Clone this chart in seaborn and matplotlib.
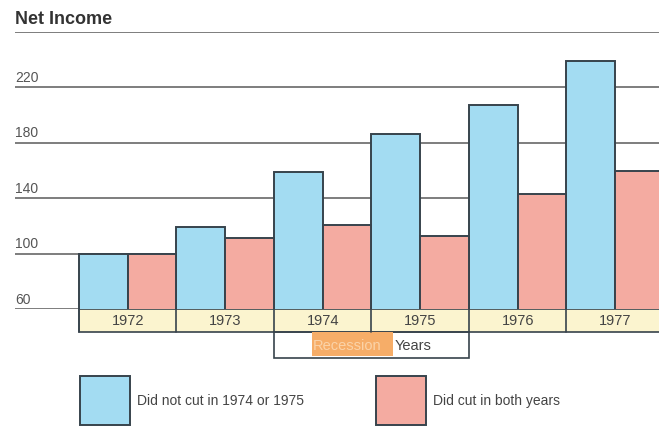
import numpy as np
import pandas as pd
import seaborn as sns
import matplotlib.pyplot as plt
from matplotlib.patches import Rectangle
from matplotlib.transforms import blended_transform_factory

# data
years = ['1972', '1973', '1974', '1975', '1976', '1977']
did_not_cut = [100, 119, 159, 186, 207, 239]
did_cut = [100, 111, 121, 113, 143, 160]
groups = ['Did not cut in 1974 or 1975', 'Did cut in both years']
grid_vals = [60, 100, 140, 180, 220, 260]
tick_labels = ['60', '100', '140', '180', '220']

df = pd.DataFrame({
    'year': years * 2,
    'income': did_not_cut + did_cut,
    'group': [groups[0]] * len(years) + [groups[1]] * len(years),
})

blue = '#a3dcf2'
pink = '#f4aba1'
edge = '#37434c'
grid_c = '#5a5a5a'

sns.set_style('white')
plt.rcParams['font.family'] = ['Liberation Sans', 'DejaVu Sans']

fig = plt.figure(figsize=(6.59, 4.27), dpi=100)
W, H = 659, 427
# axes from x=15..659 px, y=33..310 px
ax = fig.add_axes([15 / W, 1 - 310 / H, (659 - 15) / W, (310 - 33) / H])

for v in grid_vals:
    ax.axhline(v, color=grid_c, lw=1.1, zorder=0)

sns.barplot(data=df, x='year', y='income', hue='group', palette=[blue, pink],
            width=1.0, saturation=1, edgecolor=edge, linewidth=1.4,
            ax=ax, zorder=2)

ax.set_ylim(60, 260)
ax.set_xlim(-1.156, 5.449)
ax.set_xticks([])
ax.set_yticks([])
ax.set_xlabel('')
ax.set_ylabel('')
sns.despine(ax=ax, left=True, bottom=True)
ax.get_legend().remove()

# y labels sit just above the lines at the far left
tr = blended_transform_factory(ax.transAxes, ax.transData)
for lab in tick_labels:
    ax.text(0.0, float(lab) + 2.5, lab, transform=tr, fontsize=10,
            color='#555555', ha='left', va='bottom')

# year band under the bars
ax.add_patch(Rectangle((-0.5, 43.4), 6.0, 16.6, facecolor='#fbf4cf',
                       edgecolor=edge, lw=1.2, clip_on=False, zorder=1))
for i, y in enumerate(years):
    ax.plot([i - 0.5, i - 0.5], [43.4, 60], color=edge, lw=1.2,
            clip_on=False, zorder=3)
    ax.text(i, 51.7, y, ha='center', va='center', fontsize=10.5,
            color='#444444', clip_on=False)

# recession years bracket
ax.add_patch(Rectangle((1.5, 24.5), 2.0, 18.9, facecolor='none',
                       edgecolor=edge, lw=1.2, clip_on=False, zorder=1))
ax.add_patch(Rectangle((1.89, 26.0), 0.83, 17.4, facecolor='#f6ad68',
                       edgecolor='none', clip_on=False, zorder=1))
ax.text(1.9, 34.3, 'Recession', ha='left', va='center', fontsize=10.5,
        color='#fbd3a8', clip_on=False, zorder=2)
ax.text(2.74, 34.3, 'Years', ha='left', va='center', fontsize=10.5,
        color='#444444', clip_on=False, zorder=2)

# title with rule
fig.text(15 / W, 1 - 19 / H, 'Net Income', fontsize=13, fontweight='bold',
         color='#333333', ha='left', va='center')

# legend with big square swatches
handles = [Rectangle((0, 0), 1, 1, facecolor=c, edgecolor=edge, lw=1.4)
           for c in [blue, pink]]
fig.legend(handles, groups, loc='upper left',
           bbox_to_anchor=(80 / W, 1 - 377 / H), bbox_transform=fig.transFigure,
           ncol=2, frameon=False, fontsize=10, handlelength=3.6,
           handleheight=5.0, handletextpad=0.5, columnspacing=5.2,
           borderpad=0, borderaxespad=0, labelcolor='#444444')

fig.savefig('out.png', dpi=100)
